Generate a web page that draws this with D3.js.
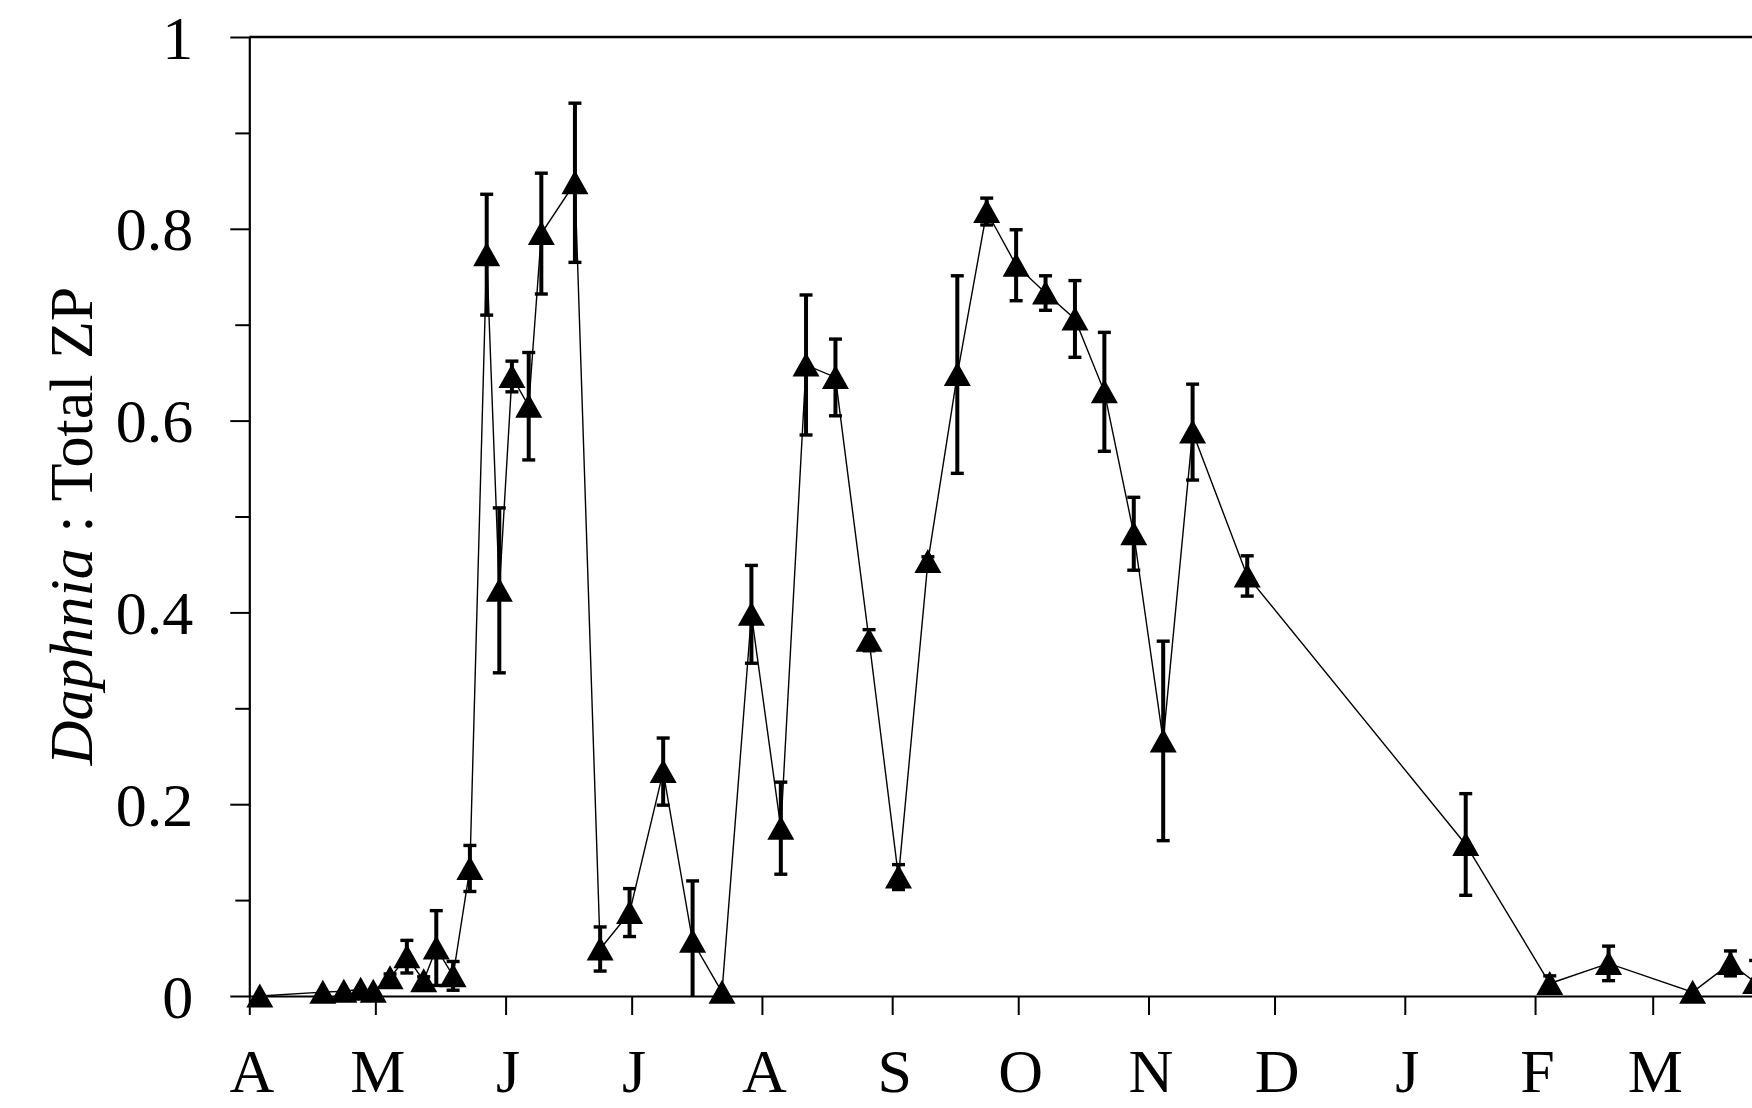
<!DOCTYPE html>
<html>
<head>
<meta charset="utf-8">
<script src="https://cdn.jsdelivr.net/npm/d3@7"></script>
<style>
  html, body { margin: 0; padding: 0; background: #fff; overflow: hidden; }
  svg { display: block; }
  text { font-family: "Liberation Serif", "Times New Roman", serif; fill: #000; }
</style>
</head>
<body>
<svg id="chart" width="1752" height="1108"></svg>
<script>
// ---- Data ----
const sampleDates = [
  "2005-04-03","2005-04-18","2005-04-23","2005-04-27","2005-04-30",
  "2005-05-04","2005-05-08","2005-05-12","2005-05-15","2005-05-19",
  "2005-05-23","2005-05-27","2005-05-30","2005-06-02","2005-06-06",
  "2005-06-09","2005-06-17","2005-06-23","2005-06-30","2005-07-08",
  "2005-07-15","2005-07-22","2005-07-29","2005-08-05","2005-08-11",
  "2005-08-18","2005-08-26","2005-09-02","2005-09-09","2005-09-16",
  "2005-09-23","2005-09-30","2005-10-07","2005-10-14","2005-10-21",
  "2005-10-28","2005-11-04","2005-11-11","2005-11-24","2006-01-15",
  "2006-02-04","2006-02-18","2006-03-10","2006-03-19","2006-03-25"
];
const ratioValues = [
  0.000, 0.004, 0.005, 0.007, 0.005,
  0.019, 0.041, 0.016, 0.050, 0.021,
  0.133, 0.773, 0.423, 0.646, 0.615,
  0.795, 0.848, 0.049, 0.087, 0.234,
  0.057, 0.004, 0.398, 0.175, 0.658,
  0.645, 0.371, 0.124, 0.453, 0.648,
  0.818, 0.762, 0.733, 0.706, 0.630,
  0.482, 0.266, 0.588, 0.438, 0.158,
  0.013, 0.034, 0.004, 0.034, 0.014
];
const ratioErrors = [
  0.000, 0.000, 0.000, 0.000, 0.000,
  0.004, 0.017, 0.004, 0.039, 0.015,
  0.024, 0.063, 0.086, 0.016, 0.056,
  0.063, 0.083, 0.023, 0.025, 0.035,
  0.063, 0.000, 0.051, 0.048, 0.073,
  0.040, 0.011, 0.013, 0.005, 0.103,
  0.014, 0.037, 0.018, 0.040, 0.062,
  0.038, 0.104, 0.050, 0.021, 0.053,
  0.008, 0.018, 0.000, 0.013, 0.023
];
const monthStarts = [
  "2005-04-01","2005-05-01","2005-06-01","2005-07-01","2005-08-01","2005-09-01",
  "2005-10-01","2005-11-01","2005-12-01","2006-01-01","2006-02-01","2006-03-01"
];
const monthLabels = ["A","M","J","J","A","S","O","N","D","J","F","M"];
const yMajorTicks = [0, 0.2, 0.4, 0.6, 0.8, 1];
const yMinorTicks = [0.1, 0.3, 0.5, 0.7, 0.9];
const yTickLabels = ["0", "0.2", "0.4", "0.6", "0.8", "1"];

(function () {
  const svg = d3.select("#chart");
  const plotLeft = 249.3, plotTop = 37, plotBottom = 996;
  const pxPerDay = 4.2018;
  const parse = d3.timeParse("%Y-%m-%d");
  const domainStart = parse("2005-04-01"), domainEnd = parse("2006-04-01");
  const x = d3.scaleTime()
    .domain([domainStart, domainEnd])
    .range([plotLeft, plotLeft + pxPerDay * 365]);
  const y = d3.scaleLinear().domain([0, 1]).range([plotBottom, plotTop]);
  const plotRight = x.range()[1];
  const serif = '"Liberation Serif", "Times New Roman", serif';

  const data = sampleDates.map((d, i) => ({
    date: d3.timeHour.offset(parse(d), 12),
    v: ratioValues[i],
    e: ratioErrors[i]
  }));

  const fontSize = 62;

  // top frame line
  svg.append("line").attr("x1", plotLeft).attr("x2", plotRight)
    .attr("y1", plotTop).attr("y2", plotTop)
    .attr("stroke", "#000").attr("stroke-width", 2.3);

  // y axis
  const yAxis = d3.axisLeft(y).tickValues(yMajorTicks)
    .tickFormat((d, i) => yTickLabels[i]).tickSize(19).tickPadding(37).tickSizeOuter(0);
  const gy = svg.append("g").attr("transform", `translate(${plotLeft},0)`).call(yAxis);
  gy.select(".domain").attr("stroke-width", 2.2);
  gy.selectAll(".tick line").attr("stroke-width", 2);
  gy.selectAll(".tick text").attr("font-size", fontSize)
    .attr("font-family", serif).attr("dy", "0.34em");
  const yMinor = d3.axisLeft(y).tickValues(yMinorTicks).tickSize(14).tickFormat("");
  const gym = svg.append("g").attr("transform", `translate(${plotLeft},0)`).call(yMinor);
  gym.select(".domain").remove();
  gym.selectAll(".tick line").attr("stroke-width", 2);

  // x axis
  const xAxis = d3.axisBottom(x).tickValues(monthStarts.map(parse))
    .tickFormat((d, i) => monthLabels[i]).tickSize(19).tickPadding(0).tickSizeOuter(0);
  const gx = svg.append("g").attr("transform", `translate(0,${plotBottom})`).call(xAxis);
  gx.select(".domain").attr("stroke-width", 2.2);
  gx.selectAll(".tick line").attr("stroke-width", 2);
  gx.selectAll(".tick text").attr("font-size", fontSize)
    .attr("font-family", serif)
    .attr("y", 96).attr("dy", 0).attr("dx", 2);

  // Y axis title
  const title = svg.append("text")
    .attr("transform", `translate(92,526) rotate(-90)`)
    .attr("text-anchor", "middle")
    .attr("font-family", serif)
    .attr("font-size", 62);
  title.append("tspan").attr("font-style", "italic").text("Daphnia");
  title.append("tspan").text(" : Total ZP");

  // Connecting line
  const line = d3.line().x(d => x(d.date)).y(d => y(d.v));
  svg.append("path").datum(data).attr("d", line)
    .attr("fill", "none").attr("stroke", "#000").attr("stroke-width", 1.4);

  // Error bars
  const eb = svg.append("g").selectAll("g").data(data.filter(d => d.e > 0)).join("g");
  eb.append("line")
    .attr("x1", d => x(d.date)).attr("x2", d => x(d.date))
    .attr("y1", d => y(Math.max(0, d.v - d.e))).attr("y2", d => y(d.v + d.e))
    .attr("stroke", "#000").attr("stroke-width", 4);
  eb.append("line")
    .attr("x1", d => x(d.date) - 6.5).attr("x2", d => x(d.date) + 6.5)
    .attr("y1", d => y(d.v + d.e)).attr("y2", d => y(d.v + d.e))
    .attr("stroke", "#000").attr("stroke-width", 3.4);
  eb.filter(d => d.v - d.e > 0).append("line")
    .attr("x1", d => x(d.date) - 6.5).attr("x2", d => x(d.date) + 6.5)
    .attr("y1", d => y(d.v - d.e)).attr("y2", d => y(d.v - d.e))
    .attr("stroke", "#000").attr("stroke-width", 3.4);

  // Triangle markers
  svg.append("g").selectAll("path").data(data).join("path")
    .attr("transform", d => `translate(${x(d.date)},${y(d.v)})`)
    .attr("d", "M0,-12.5L13.5,11.5L-13.5,11.5Z")
    .attr("fill", "#000");
})();
</script>
</body>
</html>
